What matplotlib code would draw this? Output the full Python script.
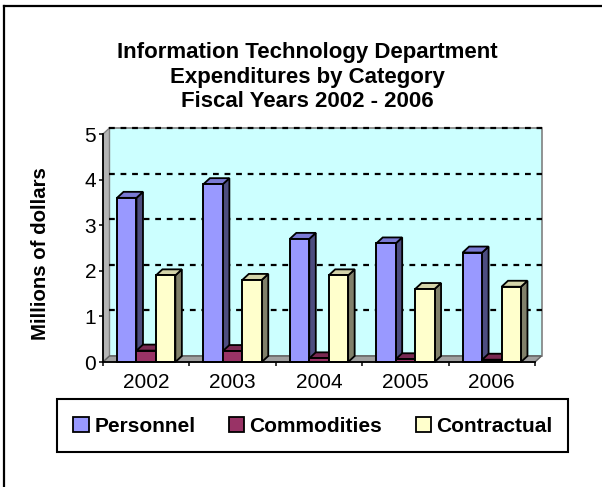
import matplotlib.pyplot as plt
from matplotlib.patches import Polygon, Patch, Rectangle
from matplotlib.lines import Line2D
import numpy as np

plt.rcParams['font.family'] = ['Liberation Sans', 'DejaVu Sans']

years = ['2002', '2003', '2004', '2005', '2006']
personnel = [3.6, 3.9, 2.7, 2.6, 2.4]
commodities = [0.25, 0.24, 0.08, 0.06, 0.05]
contractual = [1.9, 1.8, 1.9, 1.6, 1.65]
names = ['Personnel', 'Commodities', 'Contractual']

# front, side, top shades for each series
shades = [('#9999FF', '#4D4D80', '#7A7AD4'),
          ('#993366', '#4D1A33', '#7A2952'),
          ('#FFFFCC', '#80806A', '#D4D4AA')]

W, H = 602, 487
fig = plt.figure(figsize=(W / 100, H / 100), dpi=100)

def fx(px):
    return px / W

def fy(py):
    return 1 - py / H

# plot box in pixels: front axis left/right, zero line, top of value axis
L, R, B, T = 103, 535, 362, 134
ax = fig.add_axes([fx(L), fy(B), (R - L) / W, (B - T) / H])
ax.set_xlim(-0.5, 4.5)
ax.set_ylim(0, 5)
ax.patch.set_visible(False)

# 3d depth, converted to data units
dx = 6.5 * 5.0 / (R - L)
dy = 6.0 * 5.0 / (B - T)

# walls and floor
ax.add_patch(Polygon([(-0.5 + dx, dy), (4.5 + dx, dy), (4.5 + dx, 5 + dy), (-0.5 + dx, 5 + dy)],
                     fc='#CCFFFF', ec='#808080', lw=1.2, clip_on=False, zorder=0))
ax.add_patch(Polygon([(-0.5, 0), (-0.5 + dx, dy), (-0.5 + dx, 5 + dy), (-0.5, 5)],
                     fc='#B4B4B4', ec='#808080', lw=1, clip_on=False, zorder=0.5))
ax.add_patch(Polygon([(-0.5, 0), (4.5, 0), (4.5 + dx, dy), (-0.5 + dx, dy)],
                     fc='#A0A0A0', ec='#606060', lw=1, clip_on=False, zorder=0.5))

for v in range(1, 6):
    ax.plot([-0.5 + dx, 4.5 + dx], [v + dy, v + dy], color='black', lw=1.6,
            ls=(0, (2.6, 2.6)), clip_on=False, zorder=1)

w = 0.225
x = np.arange(len(years))
for k, vals in enumerate([personnel, commodities, contractual]):
    front, side, top = shades[k]
    xs = x + (k - 1) * w
    z = 2 + 3 * k
    for xc, h in zip(xs, vals):
        x0, x1 = xc - w / 2, xc + w / 2
        ax.add_patch(Polygon([(x1, 0), (x1 + dx, dy), (x1 + dx, h + dy), (x1, h)],
                             fc=side, ec='black', lw=1.3, zorder=z, clip_on=False))
        ax.add_patch(Polygon([(x0, h), (x1, h), (x1 + dx, h + dy), (x0 + dx, h + dy)],
                             fc=top, ec='black', lw=1.3, zorder=z + 1, clip_on=False))
    ax.bar(xs, vals, w, color=front, edgecolor='black', lw=1.4, zorder=z + 2, clip_on=False)

for s in ['top', 'right']:
    ax.spines[s].set_visible(False)
for s in ['left', 'bottom']:
    ax.spines[s].set_linewidth(1.3)
    ax.spines[s].set_zorder(20)

ax.set_yticks(range(6))
ax.tick_params(axis='y', labelsize=15, length=3, width=1.1, pad=2)
ax.set_xticks(np.arange(-0.5, 5, 1))
ax.set_xticklabels([])
ax.set_xticks(x, minor=True)
ax.set_xticklabels(years, minor=True)
ax.tick_params(axis='x', which='major', length=3, width=1.1)
ax.tick_params(axis='x', which='minor', length=0, labelsize=15, pad=8)

fig.text(fx(41), fy(254), 'Millions of dollars', rotation=90, ha='center', va='center',
         fontsize=14.7, fontweight='bold')
fig.text(fx(307), fy(77), 'Information Technology Department\nExpenditures by Category\n'
         'Fiscal Years 2002 - 2006', ha='center', va='center', fontsize=16,
         fontweight='bold', linespacing=1.2)

handles = [Patch(fc=shades[k][0], ec='black', lw=1.3) for k in range(3)]
leg = fig.legend(handles, names, loc='center', bbox_to_anchor=(fx(313), fy(426)), ncol=3,
                 prop={'weight': 'bold', 'size': 15}, frameon=False,
                 handlelength=0.75, handleheight=0.75, handletextpad=0.25,
                 columnspacing=1.6, borderpad=0.5)
fig.add_artist(Rectangle((fx(57), fy(452)), fx(568) - fx(57), (452 - 399) / H,
                         fill=False, ec='black', lw=1.5))

# outer chart border
fig.add_artist(Line2D([fx(4), 1], [fy(6), fy(6)], color='black', lw=1.6))
fig.add_artist(Line2D([fx(4), fx(4)], [fy(6), 0], color='black', lw=1.6))

fig.savefig('out.png', dpi=100)
